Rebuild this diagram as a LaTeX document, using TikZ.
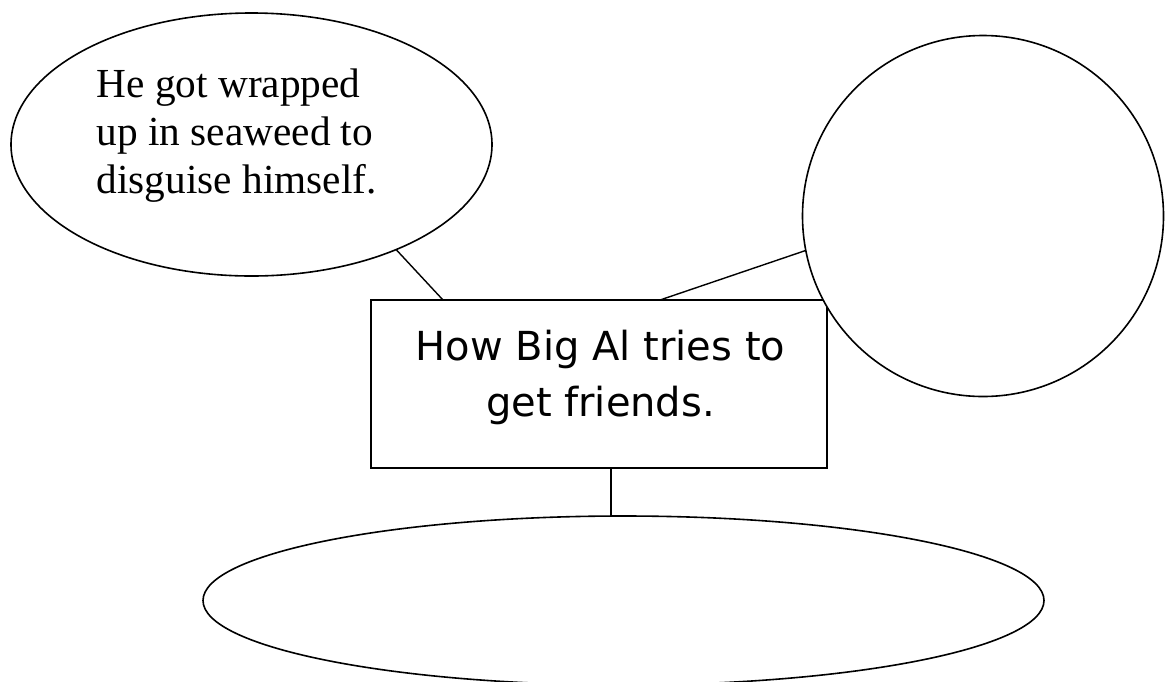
\documentclass[tikz,border=0pt]{standalone}
\usepackage{fontspec}
\setmainfont{Liberation Serif}
\newfontfamily\boxfont{DejaVu Sans}
\usetikzlibrary{shapes.geometric,calc}
\begin{document}
\begin{tikzpicture}[x=1pt,y=-1pt,
  shapeline/.style={draw=black,line width=1.6pt,fill=white,inner sep=0pt,outer sep=0pt},
  link/.style={draw=black,line width=1.4pt},
  bubbletext/.style={inner sep=0pt,align=left,font=\fontsize{41.3}{48}\selectfont},
  titletext/.style={inner sep=0pt,align=center,font=\boxfont\fontsize{40}{56}\selectfont}]
\useasboundingbox (0,0) rectangle (1165,681);
\node[shapeline,ellipse,minimum width=481pt,minimum height=263pt] (e1) at (251.5,144.5) {};
\node[shapeline,rectangle,minimum width=456pt,minimum height=168pt] (box) at (599,384) {};
\node[shapeline,circle,minimum size=361pt] (c) at (983,216) {};
\node[shapeline,ellipse,minimum width=841pt,minimum height=169pt] (e3) at (623.5,600.5) {};
\node[bubbletext,anchor=base west] (t1) at (96.5,193.5) {He got wrapped\\up in seaweed to\\disguise himself.};
\node[titletext,anchor=base] (t2) at (600.5,416) {How Big Al tries to\\get friends.};
\coordinate (b1) at ([xshift=72pt]box.north west);
\coordinate (b2) at ([xshift=289pt]box.north west);
\coordinate (b3) at ([xshift=12pt]box.south);
\draw[link] (e1.-36.8) -- (b1);
\draw[link] (b2) -- (c.191.6);
\draw[link] (b3) -- (b3 |- e3.north);
\end{tikzpicture}
\end{document}
